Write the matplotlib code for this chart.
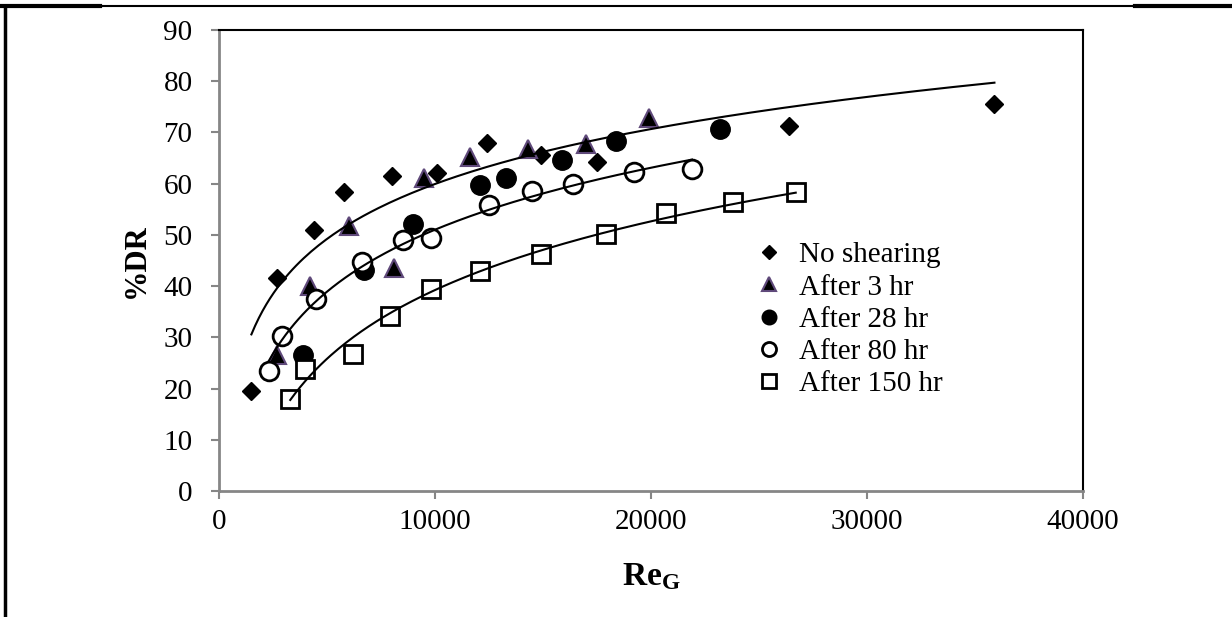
import numpy as np
import matplotlib
matplotlib.use('Agg')
import matplotlib.pyplot as plt
from matplotlib.lines import Line2D

plt.rcParams['font.family'] = 'Liberation Serif'
plt.rcParams['mathtext.fontset'] = 'custom'
plt.rcParams['mathtext.bf'] = 'Liberation Serif:bold'
plt.rcParams['mathtext.rm'] = 'Liberation Serif'

# data
re_none = [1500, 2700, 4400, 5800, 8000, 10100, 12400, 14900, 17500, 26400, 35900]
dr_none = [19.5, 41.5, 51.0, 58.3, 61.5, 62.0, 68.0, 65.5, 64.2, 71.2, 75.5]

re_3 = [2700, 4200, 6000, 8100, 9500, 11600, 14300, 17000, 19900]
dr_3 = [26.5, 40.0, 51.8, 43.5, 61.2, 65.2, 66.8, 67.8, 72.8]

re_28 = [3900, 6700, 9000, 12100, 13300, 15900, 18400, 23200]
dr_28 = [26.5, 43.2, 52.2, 59.8, 61.2, 64.7, 68.3, 70.7]

re_80 = [2300, 2900, 4500, 6600, 8500, 9800, 12500, 14500, 16400, 19200, 21900]
dr_80 = [23.5, 30.2, 37.5, 44.8, 49.0, 49.3, 55.8, 58.5, 60.0, 62.2, 62.8]

re_150 = [3300, 4000, 6200, 7900, 9800, 12100, 14900, 17900, 20700, 23800, 26700]
dr_150 = [18.0, 23.8, 26.8, 34.2, 39.4, 43.0, 46.2, 50.2, 54.3, 56.4, 58.4]

fig = plt.figure(figsize=(12.32, 6.17), dpi=100)
ax = fig.add_axes([219/1232, 1-491/617, 864/1232, 461/617])

ax.plot(re_none, dr_none, 'D', color='black', markersize=9.5, linestyle='none', label='No shearing')
ax.plot(re_3, dr_3, '^', markerfacecolor='black', markeredgecolor='#5F497A', markeredgewidth=1.5,
        markersize=12.5, linestyle='none', label='After 3 hr')
ax.plot(re_28, dr_28, 'o', color='black', markersize=14, linestyle='none', label='After 28 hr')
ax.plot(re_80, dr_80, 'o', markerfacecolor='white', markeredgecolor='black', markeredgewidth=2,
        markersize=13.5, linestyle='none', label='After 80 hr')
ax.plot(re_150, dr_150, 's', markerfacecolor='white', markeredgecolor='black', markeredgewidth=2,
        markersize=13, linestyle='none', label='After 150 hr')

# logarithmic trendlines (Excel style)
for xs, ys in [(re_none, dr_none), (re_80, dr_80), (re_150, dr_150)]:
    xs = np.array(xs, dtype=float)
    a, b = np.polyfit(np.log(xs), ys, 1)
    xx = np.linspace(xs.min(), xs.max(), 200)
    ax.plot(xx, a*np.log(xx) + b, color='black', linewidth=1.5, zorder=3)

ax.set_xlim(0, 40000)
ax.set_ylim(0, 90)
ax.set_xticks([0, 10000, 20000, 30000, 40000])
ax.set_yticks(range(0, 91, 10))
ax.tick_params(axis='both', labelsize=21, colors='#868686', labelcolor='black', length=6, width=1.5)
ax.tick_params(axis='x', pad=7)
ax.tick_params(axis='y', pad=13)

for s in ['left', 'bottom']:
    ax.spines[s].set_color('#868686')
    ax.spines[s].set_linewidth(2)
for s in ['top', 'right']:
    ax.spines[s].set_color('black')
    ax.spines[s].set_linewidth(1.5)

ax.set_ylabel('%DR', fontsize=22, fontweight='bold', labelpad=9)
ax.set_xlabel(r'$\mathbf{Re_G}$', fontsize=24, labelpad=19)

ax.legend(loc='upper left', bbox_to_anchor=(0.594, 0.572), frameon=False, fontsize=21,
          markerscale=0.75, handletextpad=0.3, labelspacing=0.2, handlelength=1.5,
          borderpad=0)

# page/table border around the figure
fig.add_artist(Line2D([0, 1], [1-6/617, 1-6/617], color='black', linewidth=1.5))
fig.add_artist(Line2D([0, 100/1232], [1-6/617, 1-6/617], color='black', linewidth=3))
fig.add_artist(Line2D([1135/1232, 1], [1-6/617, 1-6/617], color='black', linewidth=3))
fig.add_artist(Line2D([5/1232, 5/1232], [0, 1-6/617], color='black', linewidth=2.5))

fig.savefig('out.png', dpi=100)
